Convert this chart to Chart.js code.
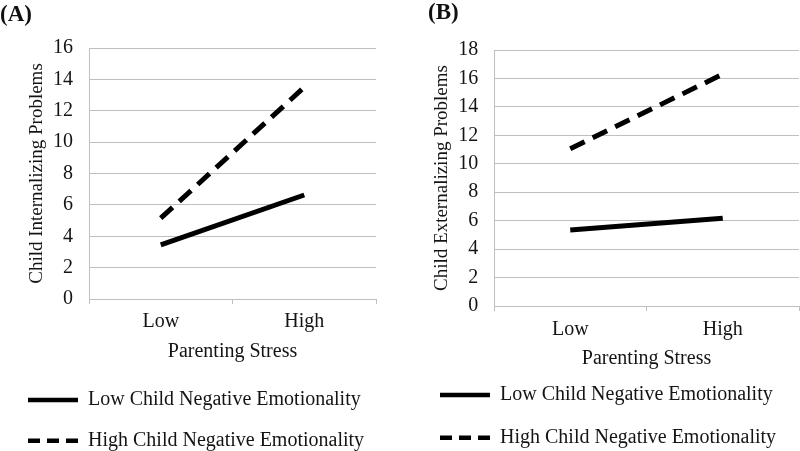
<!DOCTYPE html>
<html>
<head>
<meta charset="utf-8">
<script src="https://cdn.jsdelivr.net/npm/chart.js@4.4.1/dist/chart.umd.min.js"></script>
<style>
  html, body { margin: 0; padding: 0; background: #ffffff; overflow: hidden; width: 800px; height: 451px; }
  #wrap { position: relative; width: 800px; height: 451px; overflow: hidden; }
  canvas { position: absolute; top: 0; }
  #cA { left: 0; }
  #cB { left: 400px; }
</style>
</head>
<body>
<div id="wrap">
  <canvas id="cA" width="400" height="462"></canvas>
  <canvas id="cB" width="400" height="462"></canvas>
</div>
<script>
// ---- data ----
const categories = ['Low', 'High'];
const seriesNames = ['Low Child Negative Emotionality', 'High Child Negative Emotionality'];
const internalizingLowNE = [3.45, 6.63];
const internalizingHighNE = [5.15, 13.5];
const externalizingLowNE = [5.34, 6.17];
const externalizingHighNE = [11.05, 16.3];
const ticksA = [0, 2, 4, 6, 8, 10, 12, 14, 16];
const ticksB = [0, 2, 4, 6, 8, 10, 12, 14, 16, 18];

const FONT = "'Liberation Serif', 'Times New Roman', serif";
Chart.defaults.font.family = FONT;
Chart.defaults.color = '#1a1a1a';

const GRID = '#bfbfbf';
const TEXT = '#141414';
const PLOT_DASH = [16, 9];
const LEGEND_DASH = [12, 7];

const panelLabel = {
  id: 'panelLabel',
  afterDraw(chart, args, opts) {
    const c = chart.ctx;
    c.save();
    c.font = 'bold 23px ' + FONT;
    c.fillStyle = '#111';
    c.textBaseline = 'middle';
    c.textAlign = 'left';
    c.fillText(opts.text, opts.x, opts.y);
    c.restore();
  }
};

function legendLabels(chart) {
  const items = Chart.defaults.plugins.legend.labels.generateLabels(chart);
  items.forEach((it) => {
    const ds = chart.data.datasets[it.datasetIndex];
    it.pointStyle = 'line';
    it.lineWidth = 4.5;
    it.strokeStyle = '#000';
    it.lineCap = 'butt';
    it.lineDash = ds.borderDash ? LEGEND_DASH : [];
  });
  return items;
}

function makeChart(id, cfg) {
  const datasets = [
    {
      label: seriesNames[0],
      data: cfg.low,
      borderColor: '#000',
      backgroundColor: '#000',
      borderWidth: 5,
      borderCapStyle: 'butt',
      pointRadius: 0,
      pointHoverRadius: 0,
      pointStyle: 'line',
      tension: 0,
      fill: false
    },
    {
      label: seriesNames[1],
      data: cfg.high,
      borderColor: '#000',
      backgroundColor: '#000',
      borderWidth: 5,
      borderDash: PLOT_DASH,
      borderCapStyle: 'butt',
      pointRadius: 0,
      pointHoverRadius: 0,
      pointStyle: 'line',
      tension: 0,
      fill: false
    }
  ];
  return new Chart(document.getElementById(id), {
    type: 'line',
    data: { labels: categories, datasets },
    plugins: [panelLabel],
    options: {
      responsive: false,
      animation: false,
      devicePixelRatio: 1,
      layout: { padding: cfg.layoutPad },
      plugins: {
        title: { display: false },
        tooltip: { enabled: false },
        panelLabel: cfg.panel,
        legend: {
          display: true,
          position: 'bottom',
          align: 'start',
          labels: {
            usePointStyle: true,
            pointStyleWidth: 50,
            padding: cfg.legendPad,
            color: TEXT,
            font: { size: 20, family: FONT },
            generateLabels: legendLabels
          }
        }
      },
      scales: {
        x: {
          type: 'category',
          offset: true,
          grid: {
            offset: true,
            drawOnChartArea: false,
            drawTicks: true,
            tickLength: 5,
            color: GRID
          },
          border: { display: true, color: GRID, width: 1 },
          ticks: { padding: cfg.xTickPad, color: TEXT, font: { size: 20, family: FONT } },
          title: {
            display: true,
            text: 'Parenting Stress',
            color: TEXT,
            font: { size: 20, family: FONT },
            padding: cfg.xTitlePad
          }
        },
        y: {
          min: 0,
          max: cfg.yMax,
          afterBuildTicks: (scale) => { scale.ticks = cfg.yTicks.map(v => ({ value: v })); },
          afterFit: (scale) => { scale.width = cfg.yWidth; },
          grid: { drawTicks: false, color: GRID, lineWidth: 1 },
          border: { display: true, color: GRID, width: 1 },
          ticks: { padding: cfg.yTickPad, color: TEXT, font: { size: 20, family: FONT } },
          title: {
            display: true,
            text: cfg.yTitle,
            color: TEXT,
            font: { size: 19, family: FONT },
            padding: { top: cfg.yTitlePadTop, bottom: 0 }
          }
        }
      }
    }
  });
}

makeChart('cA', {
  low: internalizingLowNE,
  high: internalizingHighNE,
  yMax: 16,
  yTicks: ticksA,
  yTitle: 'Child Internalizing Problems',
  layoutPad: { left: 7.3, right: 24, top: 48, bottom: 1.3 },
  legendPad: 20.7,
  yWidth: 81.7,
  yTitlePadTop: 18.3,
  yTickPad: 16,
  xTickPad: 6,
  xTitlePad: { top: 0, bottom: 5.3 },
  panel: { text: '(A)', x: 0, y: 15 }
});

makeChart('cB', {
  low: externalizingLowNE,
  high: externalizingHighNE,
  yMax: 18,
  yTicks: ticksB,
  yTitle: 'Child Externalizing Problems',
  layoutPad: { left: 17.3, right: 1, top: 50, bottom: 4.3 },
  legendPad: 22.7,
  yWidth: 76.7,
  yTitlePadTop: 13.3,
  yTickPad: 15.7,
  xTickPad: 7,
  xTitlePad: { top: -2, bottom: -8.7 },
  panel: { text: '(B)', x: 28, y: 13 }
});
</script>
</body>
</html>
